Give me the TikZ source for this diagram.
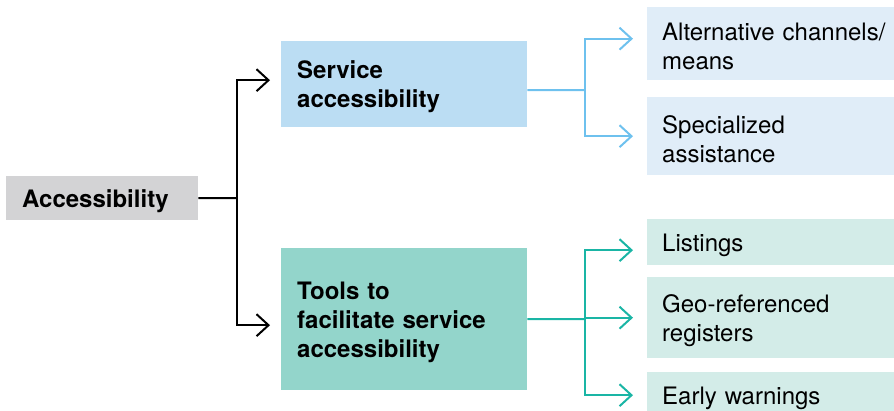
\documentclass[tikz,border=0pt]{standalone}
\usepackage{fontspec}
\setmainfont{TeX Gyre Heros}
\usetikzlibrary{arrows.meta}
\definecolor{accgray}{HTML}{D3D3D5}
\definecolor{servblue}{HTML}{BBDDF3}
\definecolor{paleblue}{HTML}{E0EDF8}
\definecolor{toolteal}{HTML}{93D5CB}
\definecolor{paleteal}{HTML}{D3ECE8}
\definecolor{lineblue}{HTML}{6EC1EE}
\definecolor{lineteal}{HTML}{1AB5A5}
\tikzset{
	box/.style={anchor=north west, inner xsep=16pt, inner ysep=0pt, align=left,
		font=\fontsize{24}{29}\selectfont, execute at begin node={\rule{0pt}{23pt}}},
	leaf/.style={box, inner xsep=15pt, minimum width=247pt, text width=240pt},
	tip/.style={-{Straight Barb[length=12pt,width=22pt,line width=2pt]}},
	link/.style={line width=2pt},
}
\begin{document}
\begin{tikzpicture}[x=1pt,y=-1pt]
	\useasboundingbox (0,0) rectangle (894,411);
	% boxes
	\node[box,fill=accgray,minimum width=192pt,minimum height=44pt,text width=160pt] (acc) at (6,176) {\bfseries Accessibility};
	\node[box,fill=servblue,minimum width=246pt,minimum height=86pt,text width=214pt] (serv) at (281,41) {\bfseries Service\\\bfseries accessibility};
	\node[box,fill=toolteal,minimum width=246pt,minimum height=142pt,text width=214pt] (tools) at (281,248) {\bfseries Tools to\\\bfseries facilitate service\\\bfseries accessibility};
	\node[leaf,fill=paleblue,minimum height=73pt] (alt) at (647,7) {Alternative channels/\\means};
	\node[leaf,fill=paleblue,minimum height=78pt] (spec) at (647,97) {Specialized\\assistance};
	\node[leaf,fill=paleteal,minimum height=46pt] (list) at (647,219) {Listings};
	\node[leaf,fill=paleteal,minimum height=81pt] (geo) at (647,277) {Geo-referenced\\registers};
	\node[leaf,fill=paleteal,minimum height=46pt] (early) at (647,372) {Early warnings};
	% connectors
	\coordinate (hubA) at (237,198);
	\coordinate (hubB) at (585,90);
	\coordinate (hubC) at (585,319);
	\draw[link] (acc.east) -- (hubA);
	\draw[link,tip,shorten >=11pt] (hubA) |- ([yshift=4pt]serv.west);
	\draw[link,tip,shorten >=11pt] (hubA) |- ([yshift=-6pt]tools.west);
	\draw[link,lineblue] ([yshift=-6pt]serv.east) -- (hubB);
	\draw[link,lineblue,tip,shorten >=14pt] (hubB) |- ([yshift=5pt]alt.west);
	\draw[link,lineblue,tip,shorten >=14pt] (hubB) |- (spec.west);
	\draw[link,lineteal] (tools.east) -- (hubC);
	\draw[link,lineteal,tip,shorten >=14pt] (hubC) |- ([yshift=-8pt]list.west);
	\draw[link,lineteal,tip,shorten >=14pt] (hubC) |- (geo.west);
	\draw[link,lineteal,tip,shorten >=14pt] (hubC) |- (early.west);
\end{tikzpicture}
\end{document}
